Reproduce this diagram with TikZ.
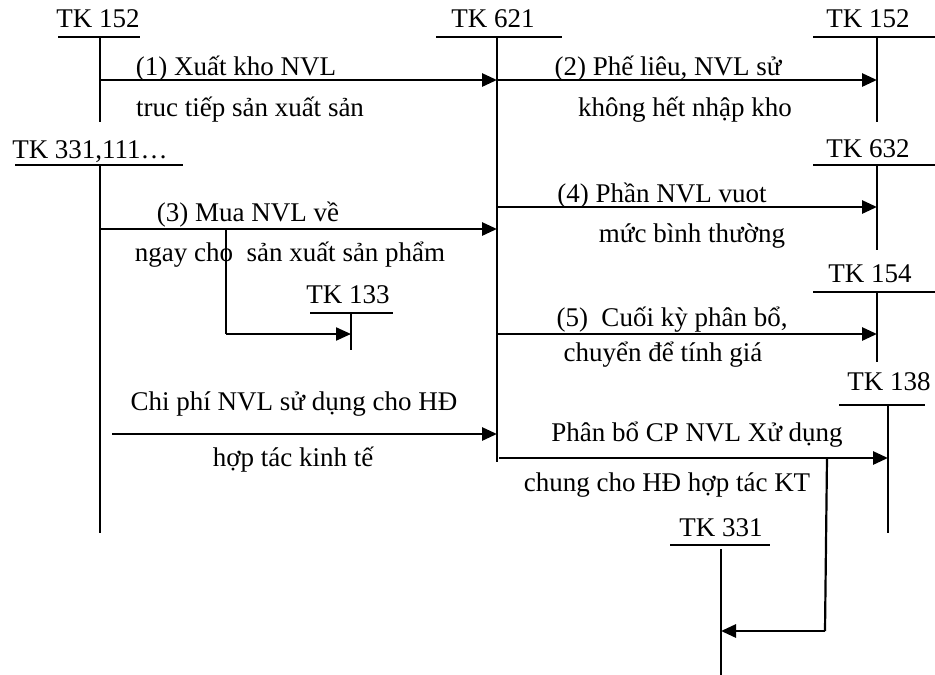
\documentclass[tikz,border=0pt]{standalone}
\usepackage{fontspec}
\setmainfont{Liberation Serif}
\usetikzlibrary{arrows.meta}
\begin{document}
\begin{tikzpicture}[x=1pt,y=-1pt,
  lbl/.style={inner sep=0pt,font=\fontsize{27}{32}\selectfont,text height=18pt,text depth=0pt,anchor=center},
  acc/.style={line width=1.8pt},
  flow/.style={line width=2.8pt,-{Triangle[length=15pt,width=13pt]}},
  seg/.style={line width=2.2pt}]
\useasboundingbox (0,0) rectangle (935,675);
% accounts
\node[lbl] (t152a) at (98,18) {TK 152};
\draw[acc] (58,37) coordinate (u1a) -- (140,37) coordinate (u1b);
\draw[acc] (100,37) coordinate (v152top) -- (100,122) coordinate (v152bot);

\node[lbl] (t621) at (493,18) {TK 621};
\draw[acc] (436,37) -- (562,37);
\draw[acc] (497,37) coordinate (v621top) -- (497,462) coordinate (v621bot);

\node[lbl] (t152b) at (868,18) {TK 152};
\draw[acc] (813,37) -- (935,37);
\draw[acc] (877,37) coordinate (v152btop) -- (877,122) coordinate (v152bbot);

\node[lbl] (t331a) at (90,149) {TK 331,111\ldots};
\draw[acc] (15,165) -- (183,165);
\draw[acc] (100,165) coordinate (v331top) -- (100,533) coordinate (v331bot);

\node[lbl] (t632) at (868,148) {TK 632};
\draw[acc] (813,165) -- (935,165);
\draw[acc] (877,165) coordinate (v632top) -- (877,250) coordinate (v632bot);

\node[lbl] (t133) at (348,294) {TK 133};
\draw[acc] (310,313) -- (393,313);
\draw[acc] (351,313) coordinate (v133top) -- (351,350) coordinate (v133bot);

\node[lbl] (t154) at (870,273) {TK 154};
\draw[acc] (813,292) -- (935,292);
\draw[acc] (877,292) coordinate (v154top) -- (877,362) coordinate (v154bot);

\node[lbl] (t138) at (889,381) {TK 138};
\draw[acc] (839,405) -- (925,405);
\draw[acc] (888,405) coordinate (v138top) -- (888,533) coordinate (v138bot);

\node[lbl] (t331b) at (721,527) {TK 331};
\draw[acc] (670,545) -- (770,545);
\draw[acc] (721,549) coordinate (v331btop) -- (721,675) coordinate (v331bbot);

% flow 1
\coordinate (f1s) at (100,80); \coordinate (f1e) at (497,80);
\draw[flow] (f1s) -- (f1e);
\node[lbl] (l1a) at (236,66) {(1) Xuất kho NVL};
\node[lbl] (l1b) at (250,107) {truc tiếp sản xuất sản};
% flow 2
\coordinate (f2s) at (497,80); \coordinate (f2e) at (877,80);
\draw[flow] (f2s) -- (f2e);
\node[lbl] (l2a) at (668,66) {(2) Phế liêu, NVL sử};
\node[lbl] (l2b) at (685,107) {không hết nhập kho};
% flow 3
\coordinate (f3s) at (100,229); \coordinate (f3e) at (497,229);
\draw[flow] (f3s) -- (f3e);
\node[lbl] (l3a) at (248,212) {(3) Mua NVL về};
\node[lbl] (l3b) at (290,252) {ngay cho\ \ sản xuất sản phẩm};
\coordinate (b3) at (226,229); \coordinate (b3c) at (226,334); \coordinate (b3e) at (351,334);
\draw[seg] (b3) -- (b3c);
\draw[flow,line width=2.2pt] (b3c) -- (b3e);
% flow 4
\coordinate (f4s) at (497,207); \coordinate (f4e) at (877,207);
\draw[flow] (f4s) -- (f4e);
\node[lbl] (l4a) at (662,193) {(4) Phần NVL vuot};
\node[lbl] (l4b) at (692,233) {mức bình thường};
% flow 5
\coordinate (f5s) at (497,334); \coordinate (f5e) at (877,334);
\draw[flow] (f5s) -- (f5e);
\node[lbl] (l5a) at (672,317) {(5)\ \ Cuối kỳ phân bổ,};
\node[lbl] (l5b) at (663,352) {chuyển để tính giá};
% HD hop tac
\coordinate (f6s) at (112,434); \coordinate (f6e) at (497,434);
\draw[flow] (f6s) -- (f6e);
\node[lbl] (l6a) at (294,401) {Chi phí NVL sử dụng cho HĐ};
\node[lbl] (l6b) at (293,457) {hợp tác kinh tế};
% phan bo
\coordinate (f7s) at (499,458); \coordinate (f7e) at (888,458);
\draw[flow] (f7s) -- (f7e);
\node[lbl] (l7a) at (697,432) {Phân bổ CP NVL Xử dụng};
\node[lbl] (l7b) at (667,482) {chung cho HĐ hợp tác KT};
\coordinate (b7) at (827,458); \coordinate (b7c) at (825,631); \coordinate (b7e) at (721,631);
\draw[seg] (b7) -- (b7c);
\draw[flow] (b7c) -- (b7e);
\end{tikzpicture}
\end{document}
